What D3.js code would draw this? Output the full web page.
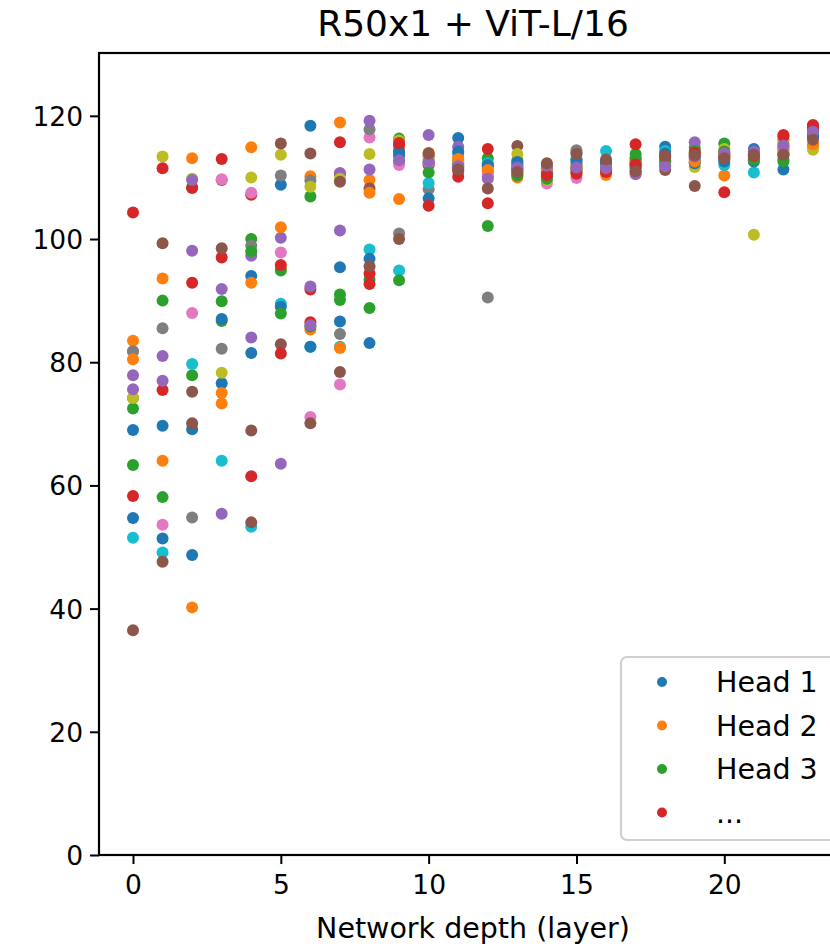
<!DOCTYPE html>
<html>
<head>
<meta charset="utf-8">
<script src="https://cdn.jsdelivr.net/npm/d3@7"></script>
<style>
  body { margin: 0; background: #fff; }
  svg { display: block; font-family: "DejaVu Sans", sans-serif; }
</style>
</head>
<body>
<svg id="chart" width="830" height="947"></svg>
<script>

// ---- attention distance per head, one array per layer (heads 1..16) ----
var layer0  = [69.0, 83.5, 72.5, 104.3, 77.9, 74.2, 81.8, 81.8, 74.2, 51.5, 54.7, 80.5, 63.3, 58.3, 75.6, 36.5];
var layer1  = [69.7, 93.6, 90.0, 75.5, 77.0, 99.3, 53.6, 85.5, 113.4, 49.1, 51.4, 64.0, 58.1, 111.5, 81.0, 47.6];
var layer2  = [69.1, 113.1, 77.9, 92.9, 98.1, 75.2, 88.0, 54.8, 109.8, 79.7, 48.7, 40.2, 108.4, 108.3, 109.6, 70.1];
var layer3  = [76.6, 75.0, 86.7, 113.0, 91.9, 109.6, 109.7, 82.2, 78.3, 64.0, 87.0, 73.3, 89.9, 97.0, 55.4, 98.5];
var layer4  = [94.0, 114.9, 100.0, 107.2, 97.3, 68.9, 107.5, 98.9, 110.0, 53.3, 81.5, 92.9, 98.0, 61.5, 84.0, 54.0];
var layer5  = [108.8, 95.2, 94.9, 95.8, 100.2, 82.9, 97.8, 110.3, 113.7, 89.5, 89.0, 101.9, 87.9, 81.4, 63.5, 115.5];
var layer6  = [118.4, 110.2, 106.9, 91.8, 92.3, 113.9, 71.1, 109.5, 108.5, 82.5, 82.5, 85.3, 85.8, 86.5, 86.0, 70.1];
var layer7  = [95.4, 118.9, 91.0, 110.6, 110.7, 78.4, 76.4, 84.6, 109.8, 82.5, 86.6, 82.3, 90.1, 115.7, 101.4, 109.3];
var layer8  = [83.1, 109.6, 93.4, 92.7, 111.3, 108.2, 116.5, 117.8, 113.8, 98.3, 96.8, 107.5, 88.8, 94.4, 119.2, 95.6];
var layer9  = [113.5, 115.0, 116.3, 115.3, 112.5, 114.3, 112.0, 100.9, 116.0, 94.9, 114.0, 106.5, 93.3, 115.6, 112.8, 100.0];
var layer10 = [112.5, 113.7, 112.2, 112.0, 116.9, 113.4, 112.4, 108.1, 113.0, 109.1, 106.6, 114.0, 110.8, 105.4, 112.6, 113.9];
var layer11 = [116.4, 113.3, 112.3, 110.1, 115.0, 112.0, 111.5, 112.5, 112.8, 113.9, 114.2, 113.0, 111.6, 111.0, 111.8, 111.3];
var layer12 = [111.0, 112.0, 113.1, 114.6, 110.2, 111.8, 110.5, 90.5, 111.4, 112.3, 112.0, 111.2, 102.1, 105.8, 109.8, 108.2];
var layer13 = [112.2, 110.0, 110.3, 111.5, 112.0, 115.1, 111.0, 112.8, 113.8, 111.8, 112.5, 110.8, 110.5, 111.3, 111.6, 110.9];
var layer14 = [111.0, 110.2, 110.0, 110.6, 111.2, 111.5, 109.0, 111.0, 109.6, 110.8, 110.5, 111.4, 109.8, 110.4, 111.9, 112.3];
var layer15 = [112.9, 111.8, 111.5, 111.3, 112.2, 114.0, 109.9, 114.4, 112.0, 113.0, 112.6, 111.0, 110.8, 110.6, 111.6, 113.8];
var layer16 = [112.0, 110.4, 111.0, 111.3, 111.8, 112.5, 111.2, 112.2, 111.6, 114.3, 112.4, 110.8, 111.4, 110.9, 111.5, 112.9];
var layer17 = [112.3, 112.0, 113.8, 115.4, 110.5, 111.5, 111.0, 112.5, 112.8, 113.0, 111.8, 112.6, 113.2, 112.1, 110.7, 111.0];
var layer18 = [115.0, 112.6, 112.8, 113.2, 112.0, 111.2, 112.4, 113.6, 112.7, 114.3, 113.9, 113.0, 112.5, 113.4, 111.8, 113.5];
var layer19 = [112.5, 112.9, 114.8, 113.9, 115.7, 108.6, 113.0, 113.5, 111.7, 113.2, 112.3, 112.6, 114.3, 114.0, 113.4, 113.6];
var layer20 = [113.0, 110.3, 115.5, 107.6, 114.0, 113.6, 113.3, 113.8, 114.6, 112.0, 112.6, 113.5, 114.2, 113.4, 113.9, 113.1];
var layer21 = [114.6, 113.5, 112.8, 113.2, 114.2, 113.8, 113.6, 113.3, 100.7, 110.8, 112.6, 113.0, 112.9, 113.5, 114.0, 113.7];
var layer22 = [111.3, 116.0, 112.9, 116.9, 115.0, 114.5, 115.5, 114.0, 116.2, 113.8, 113.5, 114.8, 112.6, 116.7, 115.2, 113.7];
var layer23 = [117.0, 115.1, 118.4, 118.5, 117.6, 116.5, 117.8, 117.2, 114.5, 116.8, 116.6, 115.4, 118.0, 118.2, 117.4, 116.1];

var layers = [0, 1, 2, 3, 4, 5, 6, 7, 8, 9, 10, 11, 12, 13, 14, 15, 16, 17, 18, 19, 20, 21, 22, 23];
var layerValues = [layer0, layer1, layer2, layer3, layer4, layer5, layer6, layer7, layer8, layer9, layer10, layer11,
                   layer12, layer13, layer14, layer15, layer16, layer17, layer18, layer19, layer20, layer21, layer22, layer23];

var xTicks = [0, 5, 10, 15, 20];
var yTicks = [0, 20, 40, 60, 80, 100, 120];
var legendLabels = ["Head 1", "Head 2", "Head 3", "..."];

// matplotlib default colour cycle
var palette = ["#1f77b4", "#ff7f0e", "#2ca02c", "#d62728", "#9467bd",
               "#8c564b", "#e377c2", "#7f7f7f", "#bcbd22", "#17becf"];

// ******** Layout ********
var plotLeft = 99, plotTop = 53, plotRight = 847, plotBottom = 855;

var x = d3.scaleLinear().domain([-1.15, 24.15]).range([plotLeft, plotRight]);
var y = d3.scaleLinear().domain([0, 130.2]).range([plotBottom, plotTop]);

var svg = d3.select("#chart");

// one series per head, drawn in head order so later heads sit on top
var heads = d3.range(layer0.length).map(function(h) {
  return layers.map(function(l, i) { return {layer: l, value: layerValues[i][h], head: h}; });
});

svg.append("g")
  .selectAll("g")
  .data(heads)
  .enter()
  .append("g")
    .attr("fill", (d, i) => palette[i % palette.length])
  .selectAll("circle")
  .data(d => d)
  .enter()
  .append("circle")
    .attr("cx", d => x(d.layer))
    .attr("cy", d => y(d.value))
    .attr("r", 6);

// ******** Axes ********
var xAxis = svg.append("g")
  .attr("transform", "translate(0," + plotBottom + ")")
  .call(d3.axisBottom(x).tickValues(xTicks).tickSize(9).tickPadding(10).tickSizeOuter(0));

var yAxis = svg.append("g")
  .attr("transform", "translate(" + plotLeft + ",0)")
  .call(d3.axisLeft(y).tickValues(yTicks).tickSize(9).tickPadding(7).tickSizeOuter(0));

[xAxis, yAxis].forEach(function(ax) {
  ax.select(".domain").remove();
  ax.selectAll("line").attr("stroke", "#000").attr("stroke-width", 2);
  ax.selectAll("text")
    .attr("fill", "#000")
    .style("font-size", "26.5px")
    .style("font-family", "DejaVu Sans, sans-serif");
});
yAxis.selectAll("text").attr("dy", "0.36em");
xAxis.selectAll("text").attr("dy", "0.76em");

// spines (right spine falls outside the page)
svg.append("rect")
  .attr("x", plotLeft)
  .attr("y", plotTop)
  .attr("width", plotRight - plotLeft)
  .attr("height", plotBottom - plotTop)
  .attr("fill", "none")
  .attr("stroke", "#000")
  .attr("stroke-width", 2.2);

svg.append("text")
  .attr("x", (plotLeft + plotRight) / 2)
  .attr("y", 36)
  .attr("text-anchor", "middle")
  .style("font-size", "36px")
  .text("R50x1 + ViT-L/16");

svg.append("text")
  .attr("x", (plotLeft + plotRight) / 2)
  .attr("y", 938)
  .attr("text-anchor", "middle")
  .style("font-size", "28.5px")
  .text("Network depth (layer)");

// ******** Legend ********
var legend = svg.append("g").attr("transform", "translate(621,657)");

legend.append("rect")
  .attr("width", 220)
  .attr("height", 183)
  .attr("rx", 6)
  .attr("fill", "#fff")
  .attr("fill-opacity", 0.8)
  .attr("stroke", "#d0d0d0")
  .attr("stroke-width", 2.2);

var rows = legend.selectAll(".row")
  .data(legendLabels)
  .enter()
  .append("g")
    .classed("row", true)
    .attr("transform", (d, i) => "translate(0," + (25 + i * 43.5) + ")");

rows.append("circle")
  .attr("cx", 41)
  .attr("r", 5)
  .attr("fill", (d, i) => palette[i]);

rows.append("text")
  .attr("x", 95)
  .attr("dy", "0.36em")
  .style("font-size", "28.5px")
  .text(d => d);

</script>
</body>
</html>
